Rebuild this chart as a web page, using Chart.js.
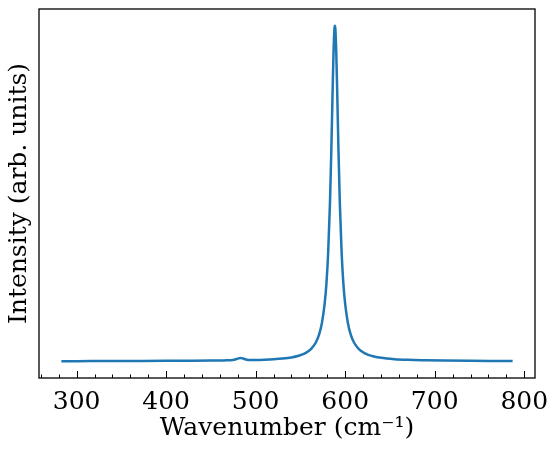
<!DOCTYPE html>
<html><head><meta charset="utf-8">
<script src="https://cdn.jsdelivr.net/npm/chart.js@4.4.0/dist/chart.umd.min.js"></script>
<style>html,body{margin:0;padding:0;background:#fff;}</style>
</head><body>
<canvas id="c" width="557" height="453"></canvas>
<script>
const wavenumbers = [283,300,330,360,400,430,450,465,472,477,480,483,486,489,493,500,510,520,530,540,548,555,562,567,571,574,577,579,581,583,584.5,586,587,588,588.5,589,590,591,592.5,594,596,598,600,603,606,610,615,622,630,640,655,670,690,710,740,770,787];
const intensity =   [0.0000,0.0003,0.0005,0.0008,0.0012,0.0016,0.0020,0.0025,0.0030,0.0050,0.0078,0.0098,0.0080,0.0052,0.0034,0.0036,0.0045,0.0058,0.0078,0.0112,0.0162,0.0232,0.0370,0.0550,0.0810,0.1140,0.1700,0.2300,0.3250,0.4720,0.6280,0.8120,0.9230,0.9910,1.0000,0.9910,0.9230,0.8120,0.6280,0.4720,0.3250,0.2300,0.1700,0.1140,0.0810,0.0550,0.0370,0.0232,0.0155,0.0102,0.0062,0.0042,0.0030,0.0022,0.0014,0.0008,0.0005];
const xTickValues = [300,400,500,600,700,800];
const xMinorStep = 20;
const xRange = [258, 812];
const yRange = [-0.05, 1.05];

const FONT = "'DejaVu Serif', serif";

const axisDecor = {
  id: 'axisDecor',
  afterDraw(chart) {
    const {ctx, chartArea: a, scales: {x}} = chart;
    ctx.save();
    ctx.strokeStyle = '#000';
    ctx.lineWidth = 1;
    const start = Math.ceil(x.min / xMinorStep) * xMinorStep;
    for (let v = start; v <= x.max; v += xMinorStep) {
      const px = Math.round(x.getPixelForValue(v)) + 0.5;
      const len = xTickValues.includes(v) ? 7 : 3.5;
      ctx.beginPath();
      ctx.moveTo(px, a.bottom);
      ctx.lineTo(px, a.bottom - len);
      ctx.stroke();
    }
    ctx.lineWidth = 1.3;
    ctx.strokeRect(a.left, a.top, a.right - a.left, a.bottom - a.top);
    ctx.restore();
  }
};

new Chart(document.getElementById('c'), {
  type: 'line',
  data: {
    datasets: [{
      data: wavenumbers.map((w, i) => ({x: w, y: intensity[i]})),
      borderColor: '#1f77b4',
      borderWidth: 2.5,
      pointRadius: 0,
      fill: false,
      cubicInterpolationMode: 'monotone'
    }]
  },
  options: {
    responsive: false,
    devicePixelRatio: 1,
    animation: false,
    events: [],
    layout: {padding: {top: 9, right: 22, left: 0, bottom: 0}},
    plugins: {legend: {display: false}, tooltip: {enabled: false}},
    scales: {
      x: {
        type: 'linear',
        min: xRange[0], max: xRange[1],
        grid: {display: false},
        border: {display: false},
        afterBuildTicks: (s) => { s.ticks = xTickValues.map(v => ({value: v})); },
        afterFit: (s) => { s.height = 75; },
        ticks: {color: '#000', padding: 1, maxRotation: 0, autoSkip: false, font: {family: FONT, size: 25}},
        title: {display: true, text: 'Wavenumber (cm\u207B\u00B9)', color: '#000', padding: {top: 0, bottom: 9.5}, font: {family: FONT, size: 25}}
      },
      y: {
        type: 'linear',
        min: yRange[0], max: yRange[1],
        grid: {display: false},
        border: {display: false},
        ticks: {display: false},
        afterFit: (s) => { s.width = 39; },
        title: {display: true, text: 'Intensity (arb. units)', color: '#000', padding: {top: 4.5, bottom: 0}, font: {family: FONT, size: 25}}
      }
    }
  },
  plugins: [axisDecor]
});
</script>
</body></html>
